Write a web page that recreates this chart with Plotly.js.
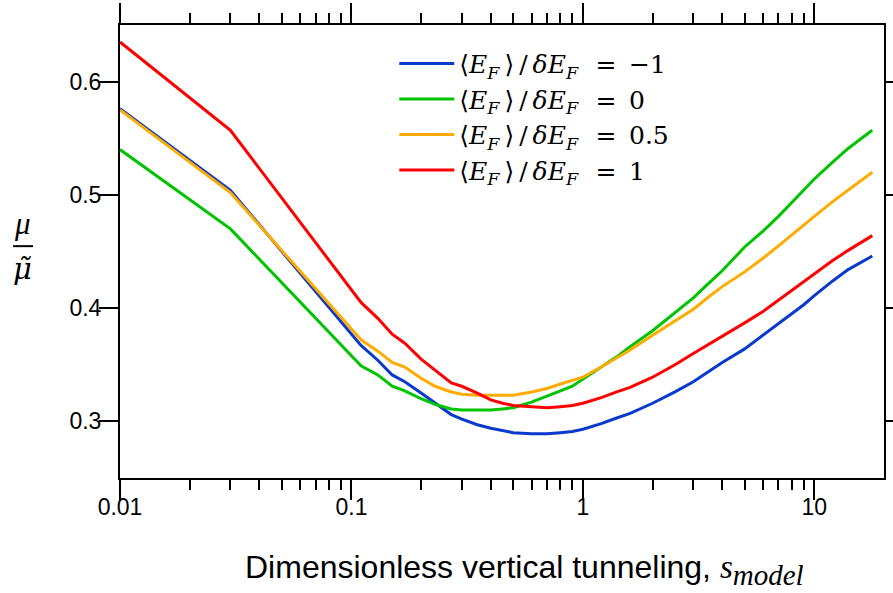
<!DOCTYPE html>
<html>
<head>
<meta charset="utf-8">
<script src="https://cdn.plot.ly/plotly-3.0.1.min.js"></script>
<style>html,body{margin:0;padding:0;background:#fff;}</style>
</head>
<body>
<div id="chart" style="width:893px;height:593px;"></div>
<script>
// x values (dimensionless vertical tunneling)
const sModel = [0.01, 0.03, 0.11, 0.13, 0.15, 0.17, 0.2, 0.23, 0.27, 0.3, 0.35, 0.4, 0.45, 0.5, 0.6, 0.7, 0.8, 0.9, 1.0, 1.2, 1.4, 1.6, 2, 2.5, 3, 3.5, 4, 5, 6, 7, 8, 9, 10, 12, 14, 16, 17.8];

// mu / mu-tilde for each <E_F>/dE_F
const ratioMinus1 = [0.576, 0.504, 0.367, 0.354, 0.341, 0.335, 0.325, 0.316, 0.306, 0.302, 0.297, 0.294, 0.292, 0.290, 0.289, 0.289, 0.290, 0.291, 0.293, 0.298, 0.303, 0.307, 0.316, 0.326, 0.335, 0.344, 0.352, 0.364, 0.376, 0.386, 0.395, 0.403, 0.411, 0.424, 0.434, 0.441, 0.446];
const ratio0 = [0.540, 0.470, 0.349, 0.341, 0.331, 0.327, 0.320, 0.315, 0.311, 0.310, 0.310, 0.310, 0.311, 0.312, 0.317, 0.322, 0.327, 0.331, 0.337, 0.348, 0.357, 0.366, 0.380, 0.396, 0.409, 0.422, 0.433, 0.454, 0.468, 0.481, 0.493, 0.504, 0.514, 0.529, 0.541, 0.550, 0.557];
const ratio05 = [0.575, 0.502, 0.372, 0.362, 0.352, 0.348, 0.338, 0.331, 0.326, 0.324, 0.323, 0.323, 0.323, 0.323, 0.326, 0.329, 0.333, 0.336, 0.339, 0.348, 0.356, 0.363, 0.376, 0.389, 0.399, 0.410, 0.419, 0.432, 0.444, 0.455, 0.465, 0.473, 0.481, 0.494, 0.504, 0.513, 0.520];
const ratio1 = [0.635, 0.557, 0.405, 0.391, 0.377, 0.369, 0.355, 0.345, 0.334, 0.331, 0.325, 0.319, 0.316, 0.314, 0.313, 0.312, 0.313, 0.314, 0.316, 0.321, 0.326, 0.330, 0.339, 0.350, 0.360, 0.368, 0.375, 0.387, 0.397, 0.407, 0.415, 0.423, 0.430, 0.442, 0.451, 0.458, 0.464];

const thin = '\u2009';
const en = '\u2002';
const lhs = '⟨<i>E</i><sub><i>F</i></sub>' + thin + '⟩' + thin + '/' + thin + '<i>δE</i><sub><i>F</i></sub>' + thin;
const seriesNames = [
  lhs + en + '=' + en + '−1',
  lhs + en + '=' + en + '0',
  lhs + en + '=' + en + '0.5',
  lhs + en + '=' + en + '1'
];
const seriesValues = [ratioMinus1, ratio0, ratio05, ratio1];
const seriesColors = ['#0a3acb', '#00c400', '#ffab00', '#ff0000'];

const xMajorTicks = [0.01, 0.1, 1, 10];
const xMajorLabels = ['0.01', '0.1', '1', '10'];
const xMinorTicks = [0.02,0.03,0.04,0.05,0.06,0.07,0.08,0.09,0.2,0.3,0.4,0.5,0.6,0.7,0.8,0.9,2,3,4,5,6,7,8,9];
const yTicks = [0.3, 0.4, 0.5, 0.6];
const yTickLabels = ['0.3', '0.4', '0.5', '0.6'];
const xTitle = 'Dimensionless vertical tunneling, <span style="font-family:Liberation Serif;font-size:33px"><i>s</i></span><sub><span style="font-family:Liberation Serif;font-size:29px"><i>model</i></span></sub>';

const traces = seriesValues.map((vals, i) => ({
  x: sModel, y: vals, type: 'scatter', mode: 'lines',
  name: seriesNames[i],
  line: {color: seriesColors[i], width: 3}
}));

const layout = {
  width: 893, height: 593,
  margin: {l: 120, r: 9, t: 25, b: 115},
  paper_bgcolor: '#fff', plot_bgcolor: '#fff',
  showlegend: true,
  legend: {
    x: 0.359, y: 0.965, xanchor: 'left', yanchor: 'top',
    bgcolor: 'rgba(0,0,0,0)', itemwidth: 55,
    font: {family: 'DejaVu Serif, serif', size: 25, color: '#000'},
    tracegroupgap: 0
  },
  xaxis: {
    type: 'log', range: [-2, Math.log10(20)],
    tickmode: 'array', tickvals: xMajorTicks, ticktext: xMajorLabels,
    ticks: 'outside', ticklen: 20, tickwidth: 2, tickcolor: '#000',
    minor: {tickmode: 'array', tickvals: xMinorTicks, ticks: 'outside', ticklen: 10, tickwidth: 2, tickcolor: '#000'},
    showline: true, linecolor: '#000', linewidth: 2, mirror: 'ticks',
    showgrid: false, zeroline: false, ticklabelstandoff: -13,
    tickfont: {family: 'Liberation Sans, Arial, sans-serif', size: 23, color: '#000'}
  },
  yaxis: {
    range: [0.25, 0.65],
    tickmode: 'array', tickvals: yTicks, ticktext: yTickLabels,
    ticks: 'outside', ticklen: 19, tickwidth: 2, tickcolor: '#000',
    showline: true, linecolor: '#000', linewidth: 2, mirror: 'ticks',
    showgrid: false, zeroline: false, ticklabelstandoff: -7,
    tickfont: {family: 'Liberation Sans, Arial, sans-serif', size: 23, color: '#000'}
  },
  shapes: [
    {type: 'line', xref: 'paper', yref: 'paper', x0: -0.140, x1: -0.1139, y0: 0.5118, y1: 0.5118, line: {color: '#000', width: 2}}
  ],
  annotations: [
    {xref: 'paper', yref: 'paper', x: 0.529, y: -0.204, xanchor: 'center', yanchor: 'middle', showarrow: false,
     text: xTitle, font: {family: 'Liberation Sans, Arial, sans-serif', size: 32, color: '#000'}},
    {xref: 'paper', yref: 'paper', x: -0.127, y: 0.5118, yshift: 3, xanchor: 'center', yanchor: 'bottom', showarrow: false,
     text: '<i>μ</i>', font: {family: 'Liberation Serif, DejaVu Serif, serif', size: 31, color: '#000'}},
    {xref: 'paper', yref: 'paper', x: -0.127, y: 0.5118, yshift: -4, xanchor: 'center', yanchor: 'top', showarrow: false,
     text: '<i>μ̃</i>', font: {family: 'DejaVu Serif, serif', size: 29, color: '#000'}}
  ]
};

Plotly.newPlot('chart', traces, layout, {displayModeBar: false, staticPlot: true});
</script>
</body>
</html>
